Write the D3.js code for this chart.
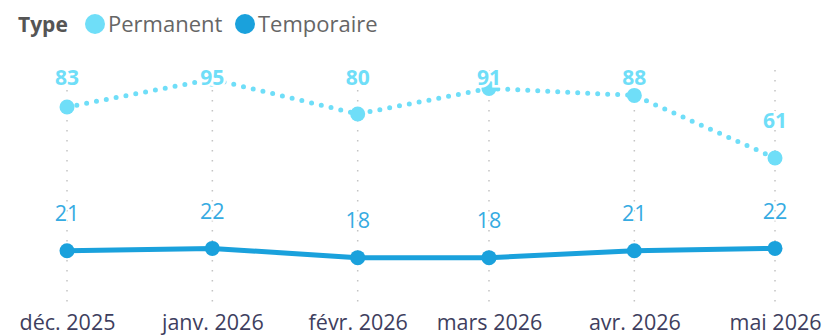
<!DOCTYPE html>
<html lang="fr">
<head>
<meta charset="utf-8">
<script src="https://cdn.jsdelivr.net/npm/d3@7"></script>
<style>
  html, body { margin: 0; padding: 0; background: #fff; }
  svg { display: block; font-family: "Open Sans", "Noto Sans", sans-serif; }
</style>
</head>
<body>
<svg id="chart" width="827" height="336"></svg>
<script>
// Monthly counts by contract type
const months = ["2025-12-01", "2026-01-01", "2026-02-01", "2026-03-01", "2026-04-01", "2026-05-01"];
const monthLabels = ["déc. 2025", "janv. 2026", "févr. 2026", "mars 2026", "avr. 2026", "mai 2026"];
const permanent = [83, 95, 80, 91, 88, 61];
const temporaire = [21, 22, 18, 18, 21, 22];
const seriesNames = ["Permanent", "Temporaire"];
const legendTitle = "Type";

const colPerm = "#6fdef8";
const colTemp = "#1aa1dc";
const colTempLabel = "#36abe2";

const svg = d3.select("#chart");
const parse = d3.utcParse("%Y-%m-%d");
const dates = months.map(parse);

const x = d3.scaleUtc()
  .domain(d3.extent(dates))
  .range([67, 775]);

const y = d3.scaleLinear()
  .domain([0, 100])
  .range([299.4, 67.6]);

// Vertical dotted gridlines at each month
const grid = svg.append("g");
grid.selectAll("line")
  .data(dates)
  .join("line")
  .attr("x1", d => x(d)).attr("x2", d => x(d))
  .attr("y1", 70).attr("y2", 304)
  .attr("stroke", "#c4c4c4")
  .attr("stroke-width", 1.5)
  .attr("stroke-dasharray", "1.5,8.5");

// X axis labels
const xAxis = d3.axisBottom(x)
  .tickValues(dates)
  .tickSize(0)
  .tickPadding(0)
  .tickFormat((d, i) => monthLabels[i]);
const gx = svg.append("g")
  .attr("transform", "translate(0,315)")
  .call(xAxis);
gx.select(".domain").remove();
gx.selectAll("text")
  .attr("font-family", "'Open Sans', sans-serif")
  .attr("font-size", 21.5)
  .attr("fill", "#3e3e5e")
  .attr("dy", "0.71em");

const line = d3.line()
  .x((d, i) => x(dates[i]))
  .y(d => y(d));

// Permanent: dotted line
svg.append("path")
  .datum(permanent)
  .attr("d", line)
  .attr("fill", "none")
  .attr("stroke", colPerm)
  .attr("stroke-width", 5)
  .attr("stroke-linecap", "round")
  .attr("stroke-dasharray", "0,10");

// Temporaire: solid line
svg.append("path")
  .datum(temporaire)
  .attr("d", line)
  .attr("fill", "none")
  .attr("stroke", colTemp)
  .attr("stroke-width", 5)
  .attr("stroke-linejoin", "round");

svg.append("g").selectAll("circle")
  .data(permanent)
  .join("circle")
  .attr("cx", (d, i) => x(dates[i]))
  .attr("cy", d => y(d))
  .attr("r", 7.5)
  .attr("fill", colPerm);

svg.append("g").selectAll("circle")
  .data(temporaire)
  .join("circle")
  .attr("cx", (d, i) => x(dates[i]))
  .attr("cy", d => y(d))
  .attr("r", 7.5)
  .attr("fill", colTemp);

// Data labels (kept below the legend area)
const labelTop = 77;
svg.append("g").selectAll("text")
  .data(permanent)
  .join("text")
  .attr("x", (d, i) => x(dates[i]))
  .attr("y", d => Math.max(y(d) - 38, labelTop))
  .attr("dy", "0.36em")
  .attr("text-anchor", "middle")
  .attr("font-size", 21)
  .attr("font-weight", 700)
  .attr("fill", colPerm)
  .attr("stroke", "#fff")
  .attr("stroke-width", 5)
  .attr("paint-order", "stroke")
  .text(d => d);

svg.append("g").selectAll("text")
  .data(temporaire)
  .join("text")
  .attr("x", (d, i) => x(dates[i]))
  .attr("y", d => y(d) - 37)
  .attr("dy", "0.36em")
  .attr("text-anchor", "middle")
  .attr("font-size", 21.5)
  .attr("fill", colTempLabel)
  .attr("stroke", "#fff")
  .attr("stroke-width", 3)
  .attr("paint-order", "stroke")
  .text(d => d);

// Legend
const legend = svg.append("g").attr("transform", "translate(18,24)");
legend.append("text")
  .attr("x", 0).attr("dy", "0.36em")
  .attr("font-size", 21)
  .attr("font-weight", 700)
  .attr("fill", "#555")
  .text(legendTitle);
const legendItems = [
  { name: seriesNames[0], color: colPerm, cx: 95 },
  { name: seriesNames[1], color: colTemp, cx: 245 }
];
const li = legend.selectAll("g.item")
  .data(legendItems)
  .join("g")
  .attr("class", "item")
  .attr("transform", d => `translate(${d.cx - 18},0)`);
li.append("circle").attr("r", 10).attr("fill", d => d.color);
li.append("text")
  .attr("x", 13).attr("dy", "0.36em")
  .attr("font-size", 22)
  .attr("fill", "#666")
  .text(d => d.name);
</script>
</body>
</html>
